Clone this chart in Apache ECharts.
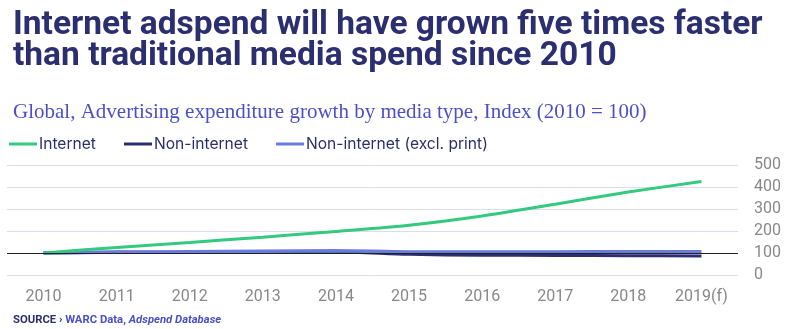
<!DOCTYPE html>
<html><head><meta charset="utf-8">
<script src="https://cdn.jsdelivr.net/npm/echarts@6/dist/echarts.min.js"></script>
<style>html,body{margin:0;padding:0;background:#fff}#c{width:796px;height:329px}</style>
</head><body><div id="c"></div>
<script>
const years = ['2010','2011','2012','2013','2014','2015','2016','2017','2018','2019(f)'];
const internet = [100, 125, 148, 172, 198, 226, 268, 322, 377, 425];
const nonInternet = [100, 103, 104, 105, 105, 94, 90, 89, 88, 86];
const nonInternetExPrint = [100, 104, 106, 108, 110, 105, 105, 105, 106, 106];
const yTicks = [0, 100, 200, 300, 400, 500];

const navy = '#2c2f6f';
const chart = echarts.init(document.getElementById('c'));
chart.setOption({
  animation: false,
  title: [
    { text: 'Internet adspend will have grown five times faster\nthan traditional media spend since 2010', left: 8, top: 5,
      textStyle: { fontFamily: 'Roboto', fontWeight: 'bold', fontSize: 33.5, color: navy, lineHeight: 31 } },
    { text: 'Global, Advertising expenditure growth by media type, Index (2010 = 100)', left: 8, top: 97,
      textStyle: { fontFamily: 'Liberation Serif', fontWeight: 'normal', fontSize: 21, color: '#4a50c8' } },
    { text: '{a|SOURCE › }{b|WARC Data, }{c|Adspend Database}', left: 8, top: 310,
      textStyle: { rich: {
        a: { fontFamily: 'Roboto', fontWeight: 'bold', fontSize: 11.3, color: navy },
        b: { fontFamily: 'Roboto', fontWeight: 'bold', fontSize: 11.3, color: '#4a50c8' },
        c: { fontFamily: 'Roboto', fontWeight: 'bold', fontStyle: 'italic', fontSize: 11.3, color: '#4a50c8' } } } }
  ],
  legend: {
    left: 4, top: 131, icon: 'rect', itemWidth: 28, itemHeight: 3, itemGap: 28,
    textStyle: { fontFamily: 'Inter', fontSize: 15.6, color: navy, padding: [0, 0, 0, -3] },
    data: ['Internet', 'Non-internet', 'Non-internet (excl. print)']
  },
  grid: { left: 7, right: 58, top: 165, bottom: 54 },
  xAxis: {
    type: 'category', data: years, boundaryGap: true,
    axisLine: { show: false }, axisTick: { show: false },
    axisLabel: { color: '#888', fontFamily: 'Roboto', fontSize: 16, margin: 14 }
  },
  yAxis: {
    type: 'value', position: 'right', min: yTicks[0], max: yTicks[yTicks.length - 1], interval: 100,
    axisLine: { show: false }, axisTick: { show: false },
    axisLabel: { color: '#888', fontFamily: 'Roboto', fontSize: 16, margin: 16 },
    splitLine: { lineStyle: { color: '#dcdcee', width: 1 } }
  },
  series: [
    { name: 'Non-internet (excl. print)', type: 'line', data: nonInternetExPrint, smooth: 0.3, showSymbol: false,
      lineStyle: { width: 3.5, color: '#6a7be0' }, itemStyle: { color: '#6a7be0' }, z: 3,
      markLine: { silent: true, symbol: 'none', label: { show: false },
        lineStyle: { color: '#222', width: 1, type: 'solid' }, data: [{ yAxis: 100 }] } },
    { name: 'Non-internet', type: 'line', data: nonInternet, smooth: 0.3, showSymbol: false,
      lineStyle: { width: 3, color: navy }, itemStyle: { color: navy }, z: 2 },
    { name: 'Internet', type: 'line', data: internet, smooth: 0.3, showSymbol: false,
      lineStyle: { width: 3, color: '#33c97f' }, itemStyle: { color: '#33c97f' }, z: 4 }
  ]
});
</script></body></html>
